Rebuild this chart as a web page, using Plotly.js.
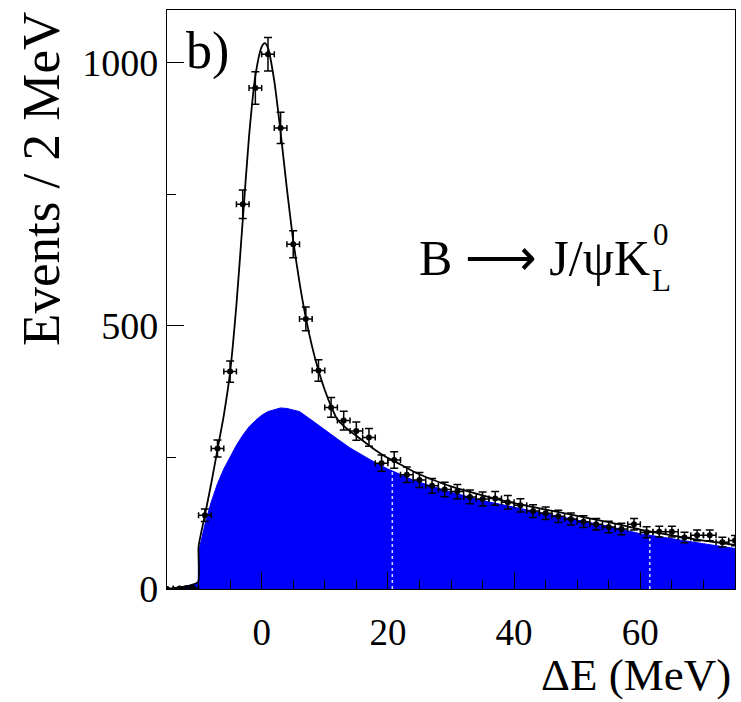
<!DOCTYPE html>
<html>
<head>
<meta charset="utf-8">
<script src="https://cdn.plot.ly/plotly-3.0.1.min.js"></script>
<style>html,body{margin:0;padding:0;background:#fff;}#plot{width:741px;height:702px;}</style>
</head>
<body>
<div id="plot"></div>
<script>
// Data points (bin centres, MeV), counts per 2 MeV, and their errors
const dataX = [-15,-13,-11,-9,-7,-5,-3,-1,1,3,5,7,9,11,13,15,17,19,21,23,25,27,29,31,33,35,37,39,41,43,45,47,49,51,53,55,57,59,61,63,65,67,69,71,73,75];
const dataY = [0,1,2,140,267,413,731,952,1016,876,655,513,415,345,320,300,288,239,245,217,207,196,189,185,175,171,172,165,159,148,144,138,133,128,123,118,114,123,108,109,109,98,102,102,89,92];
const dataErr = [0,1,1.4,11.8,16.3,20.3,27,30.9,31.9,29.6,25.6,22.6,20.4,18.6,17.9,17.3,17,15.5,15.7,14.7,14.4,14,13.7,13.6,13.2,13.1,13.1,12.8,12.6,12.2,12,11.7,11.5,11.3,11.1,10.9,10.7,11.1,10.4,10.4,10.4,9.9,10.1,10.1,9.4,9.6];
const binHalf = [1,1,1,1,1,1,1,1,1,1,1,1,1,1,1,1,1,1,1,1,1,1,1,1,1,1,1,1,1,1,1,1,1,1,1,1,1,1,1,1,1,1,1,1,1,1];

// Total fit curve
const fitX = [-15,-13,-11,-10.05,-10,-9,-8,-7,-6,-5,-4,-3,-2,-1,0,0.5,1,2,3,4,5,6,7,8,9,10,11,12,13,14,15,16,17,18,19,20,21,23,25,27,30,35,40,45,50,55,60,65,70,75];
const fitY = [0,3,8,14,80,140,200,265,330,412,540,700,860,975,1030,1037,1028,965,868,760,662,582,515,460,415,378,347,322,310,300,291,282,273,264,256,249,243,230,218,208,195,178,163,151,139,127,113,102,92,84];

// Background component (filled)
const bgX = [-15,-13,-11,-10.05,-10,-9,-8,-7,-6,-5,-4,-3,-2,-1,0,1,2,3,4,5,6,8,10,12,14,16,18,20,22,24,27,30,35,40,45,50,55,60,65,70,75];
const bgY = [0,3,8,12,70,122,165,200,228,252,273,292,308,320,330,337,341,344,343,340,337,320,302,285,268,254,240,228,217,207,195,184,168,155,143,131,119,105,95,86,77];

// Positions of the thin white gaps in the filled area
const gapX = [20.7, 61.5];

function interp(xs, ys, x) {
  for (let i = 0; i < xs.length - 1; i++) {
    if (x >= xs[i] && x <= xs[i+1]) {
      const t = (x - xs[i]) / (xs[i+1] - xs[i]);
      return ys[i] + t * (ys[i+1] - ys[i]);
    }
  }
  return ys[ys.length - 1];
}

const blue = 'rgb(0,0,250)';
const serif = '"Liberation Serif", "Times New Roman", Times, serif';

const traces = [
  {
    x: bgX, y: bgY, type: 'scatter', mode: 'lines',
    fill: 'tozeroy', fillcolor: blue,
    line: {color: blue, width: 1}, hoverinfo: 'skip', showlegend: false
  }
];
gapX.forEach(g => {
  traces.push({
    x: [g, g], y: [0, interp(bgX, bgY, g) - 2], type: 'scatter', mode: 'lines',
    line: {color: 'rgba(255,255,255,0.85)', width: 1.5, dash: 'dot'},
    hoverinfo: 'skip', showlegend: false
  });
});
traces.push({
  x: fitX, y: fitY, type: 'scatter', mode: 'lines',
  line: {color: 'black', width: 1.8, shape: 'spline', smoothing: 0.6},
  hoverinfo: 'skip', showlegend: false
});
traces.push({
  x: dataX, y: dataY, type: 'scatter', mode: 'markers',
  marker: {color: 'black', size: 6, symbol: 'circle'},
  error_y: {type: 'data', array: dataErr, visible: true, color: 'black', thickness: 1.5, width: 4},
  error_x: {type: 'data', array: binHalf, visible: true, color: 'black', thickness: 1.5, width: 3},
  cliponaxis: true, showlegend: false
});

const layout = {
  width: 741, height: 702,
  margin: {l: 167, r: 6, t: 10, b: 113},
  paper_bgcolor: 'white', plot_bgcolor: 'white',
  showlegend: false,
  xaxis: {
    range: [-15, 75], tick0: 0, dtick: 20,
    ticks: 'inside', ticklen: 17, tickwidth: 1, tickcolor: 'black',
    minor: {dtick: 5, tick0: 0, ticks: 'inside', ticklen: 9, tickcolor: 'black', tickwidth: 1, showgrid: false},
    showline: true, linecolor: 'black', linewidth: 1.2, mirror: true,
    showgrid: false, zeroline: false,
    tickfont: {family: serif, size: 37, color: 'black'},
    ticklabelstandoff: 10
  },
  yaxis: {
    range: [0, 1100], tick0: 0, dtick: 500,
    ticks: 'inside', ticklen: 17, tickwidth: 1, tickcolor: 'black',
    minor: {dtick: 250, tick0: 0, ticks: 'inside', ticklen: 9, tickcolor: 'black', tickwidth: 1, showgrid: false},
    showline: true, linecolor: 'black', linewidth: 1.2, mirror: true,
    showgrid: false, zeroline: false,
    tickfont: {family: serif, size: 38, color: 'black'},
    ticklabelstandoff: 0
  },
  annotations: [
    {text: 'Events / 2 MeV', xref: 'paper', yref: 'paper', x: -0.222, y: 1.0,
     xanchor: 'center', yanchor: 'top', textangle: -90, showarrow: false,
     font: {family: serif, size: 53, color: 'black'}},
    {text: 'ΔE (MeV)', xref: 'paper', yref: 'paper', x: 0.996, y: -0.148,
     xanchor: 'right', yanchor: 'middle', showarrow: false,
     font: {family: serif, size: 45, color: 'black'}},
    {text: 'b)', xref: 'paper', yref: 'paper', x: 0.03, y: 0.93,
     xanchor: 'left', yanchor: 'middle', showarrow: false,
     font: {family: serif, size: 52, color: 'black'}},
    {text: 'B ⟶ J/ψK', xref: 'paper', yref: 'paper', x: 0.440, y: 0.572,
     xanchor: 'left', yanchor: 'middle', showarrow: false,
     font: {family: serif, size: 50, color: 'black'}},
    {text: '0', xref: 'paper', yref: 'paper', x: 0.870, y: 0.612,
     xanchor: 'center', yanchor: 'middle', showarrow: false,
     font: {family: serif, size: 31, color: 'black'}},
    {text: 'L', xref: 'paper', yref: 'paper', x: 0.870, y: 0.533,
     xanchor: 'center', yanchor: 'middle', showarrow: false,
     font: {family: serif, size: 31, color: 'black'}}
  ]
};

Plotly.newPlot('plot', traces, layout, {staticPlot: true, displayModeBar: false});
</script>
</body>
</html>
